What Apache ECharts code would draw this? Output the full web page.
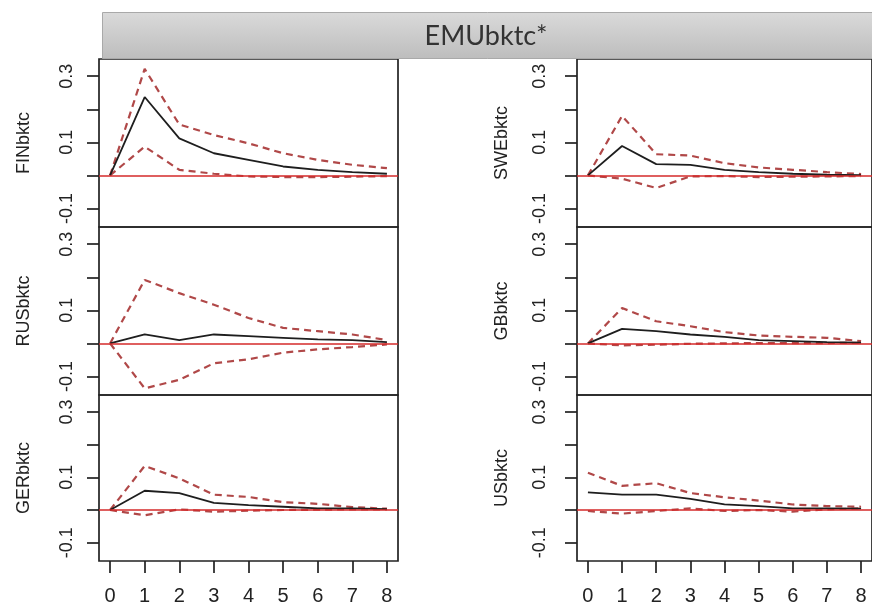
<!DOCTYPE html>
<html>
<head>
<meta charset="utf-8">
<script src="https://cdn.jsdelivr.net/npm/echarts@6/dist/echarts.min.js"></script>
<style>
html, body { margin: 0; padding: 0; background: #ffffff; }
#chart { width: 872px; height: 606px; }
</style>
</head>
<body>
<div id="chart"></div>
<script>
// Impulse responses to an EMUbktc* shock, horizons 0..8, with bootstrap bands
const steps = [0, 1, 2, 3, 4, 5, 6, 7, 8];
const shockName = 'EMUbktc*';
const panelNames = ['FINbktc', 'SWEbktc', 'RUSbktc', 'GBbktc', 'GERbktc', 'USbktc'];

const finIrf   = [0, 0.237, 0.112, 0.067, 0.047, 0.027, 0.017, 0.010, 0.005];
const finUpper = [0, 0.322, 0.154, 0.122, 0.097, 0.067, 0.047, 0.032, 0.022];
const finLower = [0, 0.087, 0.017, 0.005, -0.003, -0.005, -0.005, -0.004, -0.002];

const sweIrf   = [0, 0.089, 0.034, 0.032, 0.017, 0.010, 0.005, 0.002, 0.001];
const sweUpper = [0, 0.180, 0.064, 0.060, 0.037, 0.024, 0.017, 0.010, 0.004];
const sweLower = [0, -0.010, -0.038, -0.003, -0.002, -0.005, -0.004, -0.003, -0.002];

const rusIrf   = [0, 0.027, 0.010, 0.027, 0.022, 0.017, 0.012, 0.010, 0.004];
const rusUpper = [0, 0.192, 0.152, 0.117, 0.077, 0.047, 0.037, 0.027, 0.010];
const rusLower = [0, -0.136, -0.110, -0.060, -0.048, -0.028, -0.018, -0.011, -0.003];

const gbIrf   = [0, 0.044, 0.037, 0.027, 0.020, 0.010, 0.007, 0.004, 0.002];
const gbUpper = [0, 0.107, 0.067, 0.052, 0.034, 0.024, 0.020, 0.017, 0.007];
const gbLower = [0, -0.006, -0.004, -0.001, 0.000, 0.001, 0.001, 0.001, 0.002];

const gerIrf   = [0, 0.059, 0.052, 0.022, 0.015, 0.010, 0.005, 0.005, 0.003];
const gerUpper = [0, 0.135, 0.097, 0.047, 0.040, 0.024, 0.019, 0.009, 0.004];
const gerLower = [0, -0.016, 0.002, -0.005, -0.002, 0.000, 0.001, 0.002, 0.002];

const usIrf   = [0.054, 0.047, 0.047, 0.034, 0.017, 0.012, 0.005, 0.005, 0.004];
const usUpper = [0.114, 0.074, 0.082, 0.052, 0.039, 0.029, 0.017, 0.012, 0.010];
const usLower = [-0.003, -0.011, -0.003, 0.005, -0.003, 0.000, -0.005, 0.002, 0.005];

const yTicks = [-0.1, 0, 0.1, 0.2, 0.3];
const yTickLabels = [-0.1, 0.1, 0.3];

const panelData = [
  [finIrf, finUpper, finLower],
  [sweIrf, sweUpper, sweLower],
  [rusIrf, rusUpper, rusLower],
  [gbIrf, gbUpper, gbLower],
  [gerIrf, gerUpper, gerLower],
  [usIrf, usUpper, usLower]
];

const chart = echarts.init(document.getElementById('chart'));

const colLeft = [99, 577];
const colLabelMargin = [23, 28];
const rowTop = [59, 227, 395];
const panelW = 299;
const panelH = 168;
const ink = '#222222';
const font = '"Liberation Sans", Arial, sans-serif';

const grids = [], xAxes = [], yAxes = [], series = [];

panelNames.forEach(function (name, i) {
  const row = Math.floor(i / 2), col = i % 2;
  const bottomRow = row === 2;
  grids.push({
    left: colLeft[col], top: rowTop[row], width: panelW, height: panelH,
    show: true, borderColor: ink, borderWidth: 1.7, backgroundColor: 'transparent'
  });
  xAxes.push({
    type: 'value', gridIndex: i, min: -0.32, max: 8.32, position: 'bottom',
    axisLine: { show: false, onZero: false },
    splitLine: { show: false },
    axisTick: { show: bottomRow, length: 12, lineStyle: { color: ink, width: 1.7 }, customValues: steps },
    axisLabel: { show: bottomRow, customValues: steps, margin: 25, fontSize: 20, color: ink, fontFamily: font }
  });
  yAxes.push({
    type: 'value', gridIndex: i, min: -0.156, max: 0.352,
    name: name, nameLocation: 'middle', nameGap: 66, nameRotate: 90,
    nameTextStyle: { fontSize: 18, color: ink, fontFamily: font },
    axisLine: { show: false, onZero: false },
    splitLine: { show: false },
    axisTick: { show: true, length: 12, lineStyle: { color: ink, width: 1.7 }, customValues: yTicks },
    axisLabel: {
      show: true, rotate: 90, customValues: yTickLabels, margin: colLabelMargin[col],
      fontSize: 18, color: ink, fontFamily: font,
      formatter: function (v) { return v.toFixed(1); }
    }
  });
  const d = panelData[i];
  const pairs = function (arr) { return steps.map(function (s, k) { return [s, arr[k]]; }); };
  series.push({
    type: 'line', xAxisIndex: i, yAxisIndex: i, data: pairs(d[1]), symbol: 'none', z: 3,
    lineStyle: { color: '#b04848', width: 2.2, type: [7, 5] },
    markLine: {
      silent: true, symbol: 'none', label: { show: false },
      lineStyle: { color: '#d42a2a', width: 1.6, type: 'solid' },
      data: [{ yAxis: 0 }]
    }
  });
  series.push({
    type: 'line', xAxisIndex: i, yAxisIndex: i, data: pairs(d[2]), symbol: 'none', z: 3,
    lineStyle: { color: '#b04848', width: 2.2, type: [7, 5] }
  });
  series.push({
    type: 'line', xAxisIndex: i, yAxisIndex: i, data: pairs(d[0]), symbol: 'none', z: 4,
    lineStyle: { color: '#1e1e1e', width: 1.8 }
  });
});

chart.setOption({
  animation: false,
  backgroundColor: '#ffffff',
  grid: grids,
  xAxis: xAxes,
  yAxis: yAxes,
  series: series,
  graphic: [
    {
      type: 'rect', left: 102, top: 12, z: 10,
      shape: { width: 780, height: 46 },
      style: {
        fill: new echarts.graphic.LinearGradient(0, 0, 0, 1, [
          { offset: 0, color: '#dadada' },
          { offset: 1, color: '#bdbdbd' }
        ]),
        stroke: '#a9a9a9', lineWidth: 1
      }
    },
    {
      type: 'text', x: 486, y: 36, z: 11,
      style: {
        text: shockName, fill: '#333333', font: '27px Lato, "Open Sans", sans-serif',
        textAlign: 'center', textVerticalAlign: 'middle'
      }
    }
  ]
});
</script>
</body>
</html>
